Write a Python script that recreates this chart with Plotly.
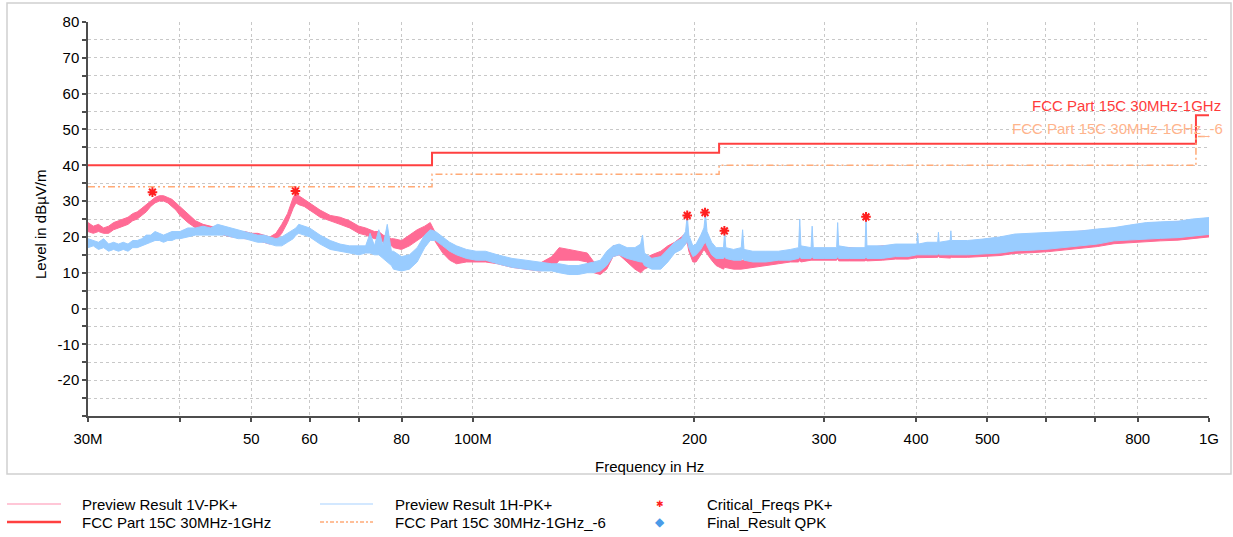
import plotly.graph_objects as go

# ---------------- data ----------------
freq_mhz = [30, 30.5, 31, 31.5, 32, 32.5, 33, 33.5, 34, 34.5, 35, 35.5, 36, 36.5, 37, 37.5, 38, 38.5, 39, 39.5,
            40, 41, 42, 43, 44, 45, 46, 47, 48, 49, 50, 51, 52, 53, 54, 55, 56, 57, 57.5, 58,
            59, 60, 61, 62, 64, 66, 68, 70, 71.5, 72.5, 73.5, 74.5, 75.5, 76.5, 77.5, 78, 80, 82, 84, 86, 87.5, 89, 91,
            93, 95, 98, 101, 104, 108, 113, 118, 123, 128, 131, 135, 139, 143, 146, 149, 152, 155, 158, 162,
            166, 169, 170, 171, 175, 180, 184, 188, 192, 194.5, 195.5, 196.5, 199, 201, 204, 206, 207, 208, 211, 214,
            219, 219.8, 220.6, 226, 231.5, 232.5, 233.5, 240, 250, 260, 270, 277, 278, 279, 288, 289, 290, 300, 312, 313,
            314, 325, 341, 342, 343, 360, 375, 390, 401, 402, 403, 414, 428, 429, 430, 445, 446, 447, 470, 493,
            520, 545, 575, 606, 640, 672, 705, 743, 780, 822, 860, 908, 950, 1000]

v_lo = [21.5, 21.0, 21.5, 21.0, 21.0, 22.0, 22.5, 23.0, 23.5, 24.5, 25.0, 26.0, 27.0, 28.5, 29.5, 30.0, 30.0, 29.5, 28.5, 27.5,
        26.0, 24.0, 22.5, 22.0, 21.5, 21.0, 20.5, 20.0, 20.0, 19.5, 19.5, 19.0, 18.5, 18.0, 19.0, 21.0, 24.0, 28.0, 29.5, 29.0,
        28.5, 27.5, 26.5, 25.5, 24.5, 23.5, 22.5, 21.0, 20.5, 20.0, 19.5, 19.5, 18.5, 18.0, 17.5, 17.0, 16.5, 17.5, 19.0, 20.5, 21.5, 18.5, 15.5,
        13.5, 12.5, 13.0, 13.0, 13.0, 12.5, 11.5, 11.0, 10.5, 11.0, 13.5, 13.5, 13.5, 13.0, 10.0, 9.5, 11.0, 14.5, 15.0, 13.0,
        11.0, 10.0, 10.5, 11.0, 12.0, 12.5, 14.5, 16.0, 17.0, 18.0, 18.5, 16.0, 13.0, 13.0, 15.0, 16.5, 16.0, 15.5, 13.5, 12.0,
        11.0, 11.5, 11.5, 11.0, 11.0, 11.0, 11.0, 11.5, 12.0, 12.5, 13.0, 13.0, 13.5, 13.0, 13.5, 13.5, 13.5, 13.5, 13.5, 14.0,
        13.3, 13.3, 13.3, 13.5, 13.3, 13.5, 13.8, 13.8, 14.2, 14.3, 14.2, 14.3, 14.3, 14.5, 14.3, 14.1, 14.2, 14.3, 14.3, 14.5,
        14.8, 15.4, 15.6, 15.9, 16.3, 16.8, 17.3, 18.1, 18.3, 18.6, 18.9, 19.1, 19.5, 20.0]
v_hi = [24.0, 23.0, 23.5, 22.5, 23.0, 24.0, 24.5, 25.0, 25.5, 26.5, 27.0, 28.0, 29.0, 30.0, 31.0, 31.5, 31.5, 31.0, 30.5, 29.5,
        28.5, 26.5, 24.5, 23.5, 23.0, 22.5, 22.0, 22.0, 21.5, 21.5, 21.0, 21.0, 20.5, 20.0, 21.0, 23.5, 26.5, 31.0, 32.3, 31.5,
        30.5, 29.5, 28.5, 27.5, 26.0, 25.5, 24.5, 23.0, 22.5, 22.0, 21.5, 21.5, 20.5, 20.0, 19.5, 19.5, 19.0, 20.5, 22.0, 23.0, 24.0, 21.0, 18.0,
        16.0, 15.0, 15.0, 15.0, 15.0, 14.5, 13.5, 13.0, 12.5, 14.5, 17.0, 16.5, 16.0, 15.5, 13.0, 12.5, 14.5, 17.5, 17.5, 16.0,
        14.0, 13.0, 13.5, 14.0, 15.0, 16.0, 17.5, 18.5, 20.0, 21.0, 22.0, 19.0, 16.0, 15.5, 18.0, 19.5, 19.0, 18.5, 16.0, 14.5,
        14.0, 14.5, 14.0, 13.5, 13.5, 13.5, 13.5, 13.5, 14.0, 14.0, 14.5, 15.0, 15.5, 15.0, 15.0, 15.5, 15.0, 15.0, 15.5, 16.0,
        17.0, 17.0, 16.5, 17.0, 17.0, 17.5, 17.5, 17.5, 17.5, 18.0, 17.5, 18.0, 18.0, 18.0, 18.0, 18.5, 18.5, 18.5, 18.7, 19.0,
        19.7, 20.4, 20.6, 20.9, 21.2, 21.5, 21.9, 22.4, 23.0, 23.7, 24.0, 24.2, 24.7, 25.1]

h_lo = [17.0, 17.5, 16.5, 17.0, 16.0, 16.5, 16.0, 16.5, 16.0, 17.0, 17.0, 17.5, 18.0, 18.5, 19.0, 19.0, 18.5, 19.0, 19.0, 19.5,
        19.5, 20.0, 20.5, 20.5, 20.5, 20.5, 20.5, 20.0, 19.5, 19.5, 19.0, 18.5, 18.5, 18.0, 17.5, 17.5, 18.5, 19.5, 20.5, 21.0,
        20.5, 20.0, 19.0, 18.0, 16.5, 16.0, 15.5, 15.0, 15.5, 15.5, 15.0, 15.0, 14.0, 13.0, 12.0, 11.0, 10.5, 11.0, 13.0, 17.0, 19.0, 19.0, 17.5,
        16.0, 15.0, 14.0, 13.5, 13.5, 12.5, 11.5, 11.0, 10.5, 10.5, 10.0, 9.5, 9.5, 10.0, 10.0, 10.5, 12.0, 14.5, 15.0, 14.0,
        13.5, 13.0, 13.0, 12.0, 11.0, 11.0, 13.0, 15.5, 16.5, 18.0, 19.0, 17.0, 14.5, 15.0, 16.5, 18.0, 18.5, 17.5, 15.0, 14.0,
        14.0, 14.5, 14.0, 13.5, 13.5, 14.0, 13.5, 13.0, 13.0, 13.5, 13.5, 14.0, 14.5, 14.0, 14.0, 14.5, 14.0, 14.0, 14.0, 14.5,
        14.0, 14.0, 14.0, 14.5, 14.0, 14.0, 14.5, 14.5, 15.0, 15.0, 15.0, 15.0, 15.0, 15.5, 15.0, 14.8, 15.0, 15.0, 15.0, 15.2,
        15.5, 16.1, 16.3, 16.6, 17.0, 17.5, 18.0, 18.9, 19.0, 19.4, 19.6, 19.8, 20.2, 20.7]
h_hi = [19.5, 19.0, 18.5, 19.5, 18.0, 18.5, 18.0, 18.5, 18.0, 19.0, 19.0, 19.5, 20.5, 20.5, 21.5, 21.0, 20.5, 21.0, 21.5, 21.5,
        21.5, 22.5, 22.5, 23.0, 22.5, 23.5, 23.0, 22.5, 22.0, 21.5, 21.0, 20.5, 20.5, 20.0, 19.5, 20.0, 21.0, 22.0, 22.5, 23.5,
        23.0, 22.5, 21.5, 20.5, 19.0, 18.0, 17.5, 17.5, 17.5, 21.0, 17.5, 22.0, 17.5, 23.5, 16.0, 16.0, 14.5, 15.0, 17.0, 20.5, 22.0, 21.5, 20.0,
        18.5, 17.5, 16.5, 16.0, 16.0, 15.0, 14.0, 13.5, 13.0, 12.5, 12.5, 12.0, 12.0, 12.5, 13.0, 13.5, 16.0, 17.5, 18.0, 17.0,
        17.0, 18.0, 20.5, 15.5, 14.0, 14.5, 16.5, 18.5, 19.5, 21.5, 26.0, 20.5, 17.5, 18.0, 20.5, 22.5, 26.5, 21.5, 18.5, 17.0,
        17.0, 21.5, 17.0, 16.5, 17.0, 22.0, 16.5, 16.0, 16.0, 16.0, 16.5, 17.0, 25.0, 17.5, 17.0, 23.0, 17.0, 17.0, 17.0, 24.0,
        17.5, 17.0, 17.0, 26.0, 17.5, 17.5, 18.0, 18.0, 18.0, 21.0, 18.0, 18.5, 18.5, 21.3, 18.5, 19.0, 21.7, 19.0, 19.0, 19.4,
        20.0, 20.8, 21.0, 21.2, 21.5, 21.7, 22.2, 22.6, 23.3, 24.0, 24.2, 24.4, 25.0, 25.4]

limit_mhz = [30, 88, 216, 960, 1000]
limit_db = [40, 43.5, 46, 54, 54]
limit6_db = [34, 37.5, 40, 48, 48]

crit_mhz = [36.7, 57.4, 195.5, 206.7, 219.6, 342]
crit_db = [32.5, 32.8, 26.0, 26.8, 21.7, 25.6]

x_grid_mhz = [30, 40, 50, 60, 70, 80, 100, 200, 300, 400, 500, 600, 700, 800, 1000]
x_tick_text = ["30M", "", "50", "60", "", "80", "100M", "200", "300", "400", "500", "", "", "800", "1G"]
y_ticks = list(range(-30, 81, 5))
y_tick_text = ["" if (v % 10 != 0 or v == -30) else str(v) for v in y_ticks]

legend_items = [
    ("Preview Result 1V-PK+", "line", "#ff8fb0"),
    ("Preview Result 1H-PK+", "line", "#a8d2ff"),
    ("Critical_Freqs PK+", "star", "#ff2020"),
    ("FCC Part 15C 30MHz-1GHz", "thick", "#ff4040"),
    ("FCC Part 15C 30MHz-1GHz_-6", "dash", "#ffaa77"),
    ("Final_Result QPK", "diamond", "#4a9be8"),
]

# ---------------- styling ----------------
PINK = "#ff6b95"
BLUE = "#99ccff"
RED = "#ff4040"
ORANGE = "#ffaa77"
FONT = "Liberation Sans, Arial, sans-serif"

W, H = 1233, 537
L, R, T, B = 88, 24, 22, 121
PW, PH = W - L - R, H - T - B


def px(x):
    return (x - L) / PW


def py(y):
    return (H - B - y) / PH


hz = lambda arr: [v * 1e6 for v in arr]

fig = go.Figure()

# measurement bands
for lo, hi, col, name in [(v_lo, v_hi, PINK, "Preview Result 1V-PK+"),
                          (h_lo, h_hi, BLUE, "Preview Result 1H-PK+")]:
    fig.add_trace(go.Scatter(
        x=hz(freq_mhz) + hz(freq_mhz[::-1]),
        y=hi + lo[::-1],
        fill="toself", fillcolor=col, mode="lines",
        line=dict(color=col, width=1), name=name, showlegend=False, hoverinfo="skip"))

# limit lines
fig.add_trace(go.Scatter(x=hz(limit_mhz), y=limit_db, mode="lines", line_shape="hv",
                         line=dict(color=RED, width=2), showlegend=False, name="FCC Part 15C 30MHz-1GHz"))
fig.add_trace(go.Scatter(x=hz(limit_mhz), y=limit6_db, mode="lines", line_shape="hv",
                         line=dict(color=ORANGE, width=1.5, dash="7px,3px,2px,3px,2px,3px"),
                         showlegend=False, name="FCC Part 15C 30MHz-1GHz_-6"))

# critical frequencies
fig.add_trace(go.Scatter(x=hz(crit_mhz), y=crit_db, mode="markers", showlegend=False,
                         name="Critical_Freqs PK+",
                         marker=dict(symbol="asterisk-open", size=8, color="#ff2020",
                                     line=dict(color="#ff2020", width=2))))
fig.add_trace(go.Scatter(x=hz(crit_mhz), y=crit_db, mode="markers", showlegend=False,
                         hoverinfo="skip",
                         marker=dict(symbol="circle", size=4, color="#ff2020")))

shapes = []
annotations = []


def text(t, x, y, xa="center", ya="middle", **kw):
    d = dict(text=t, xref="paper", yref="paper", x=x, y=y, xanchor=xa, yanchor=ya, showarrow=False)
    d.update(kw)
    annotations.append(d)


# outer frame
shapes.append(dict(type="rect", xref="paper", yref="paper", x0=px(7), x1=px(1231), y0=py(474), y1=py(3),
                   line=dict(color="#d0d0d0", width=1.5), layer="below"))

# axis titles
text("Frequency in Hz", px(649), py(466), font=dict(size=15, color="#000", family=FONT))
text("Level in dBµV/m", px(40), py(224), textangle=-90, font=dict(size=15, color="#000", family=FONT))

# limit labels
text("FCC Part 15C 30MHz-1GHz", px(1223), py(106), xa="right", font=dict(size=15, color="#ff3b3b", family=FONT))
text("FCC Part 15C 30MHz-1GHz_-6", px(1225), py(128), xa="right", font=dict(size=15, color="#ffb48c", family=FONT))

# manual legend
col_x = [(7, 61, 80), (320, 373, 393), (633, 687, 705)]
row_y = [504, 522]
for i, (label, kind, col) in enumerate(legend_items):
    cx0, cx1, tx = col_x[i % 3]
    yy = row_y[i // 3]
    if kind in ("line", "thick", "dash"):
        w = {"line": 1.2, "thick": 2.5, "dash": 1.5}[kind]
        shapes.append(dict(type="line", xref="paper", yref="paper", x0=px(cx0), x1=px(cx1), y0=py(yy), y1=py(yy),
                           line=dict(color=col, width=w, dash="4px,2px,2px,2px" if kind == "dash" else "solid")))
    elif kind == "star":
        text("✱", px(660), py(yy), font=dict(size=9, color=col, family="DejaVu Sans"))
    elif kind == "diamond":
        text("◆", px(660), py(yy), font=dict(size=12, color=col, family="DejaVu Sans"))
    text(label, px(tx), py(yy), xa="left", font=dict(size=15, color="#000", family=FONT))

fig.update_layout(
    width=W, height=H,
    margin=dict(l=L, r=R, t=T, b=B, pad=0),
    paper_bgcolor="white", plot_bgcolor="white",
    showlegend=False,
    shapes=shapes, annotations=annotations,
    font=dict(family=FONT, size=15, color="#000"),
    xaxis=dict(type="log", range=[7.47712, 9.0], tickvals=hz(x_grid_mhz), ticktext=x_tick_text,
               showgrid=True, gridcolor="#c8c8c8", griddash="dot", gridwidth=1,
               showline=True, linecolor="#4d4d4d", linewidth=1.5, mirror=False,
               ticks="outside", ticklen=4, tickcolor="#4d4d4d", tickwidth=1.5,
               ticklabelstandoff=4, zeroline=False, tickfont=dict(size=15), automargin=False),
    yaxis=dict(range=[-30, 80], tickvals=y_ticks, ticktext=y_tick_text,
               showgrid=True, gridcolor="#c8c8c8", griddash="dot", gridwidth=1,
               showline=True, linecolor="#4d4d4d", linewidth=1.5, mirror=False,
               ticks="outside", ticklen=4, tickcolor="#4d4d4d", tickwidth=1.5,
               zeroline=False, tickfont=dict(size=15), automargin=False),
)

fig.write_html("out.html", config={"displayModeBar": False},
               post_script="document.body.style.margin='0';document.body.style.overflow='hidden';")
